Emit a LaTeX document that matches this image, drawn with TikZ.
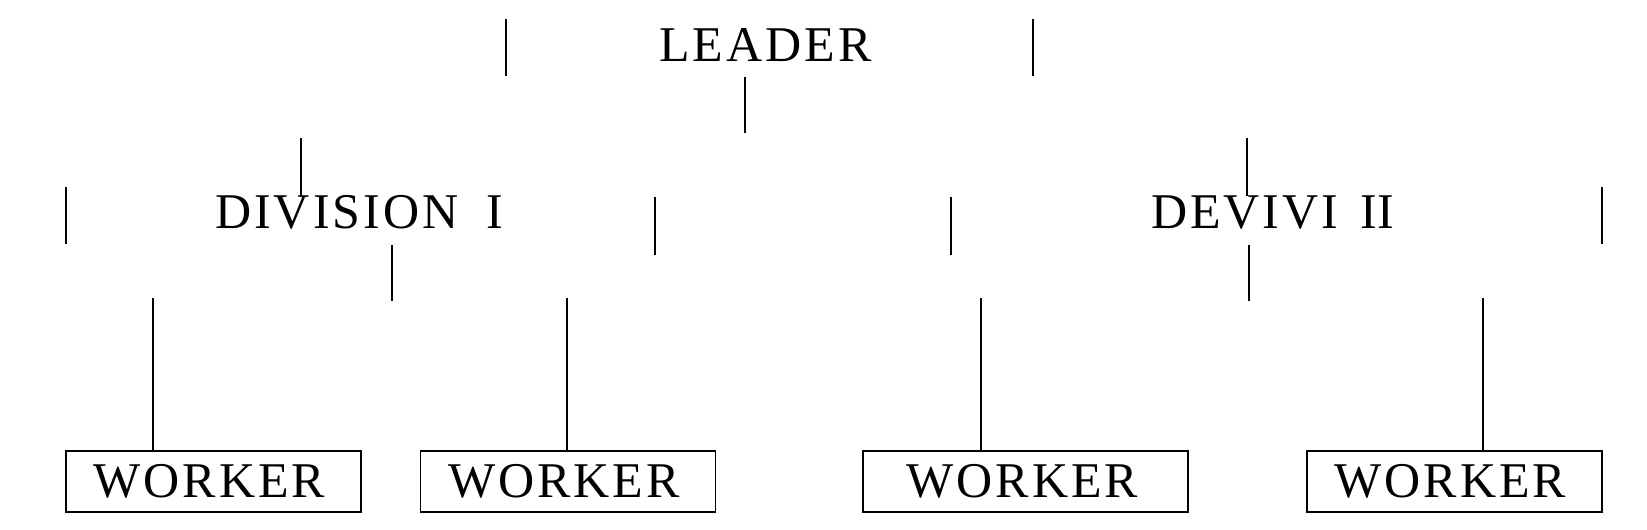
\documentclass[tikz,border=0pt]{standalone}
\usepackage{fontspec}
\setmainfont{Liberation Serif}
\newfontfamily\spacedfont[LetterSpace=6]{Liberation Serif}
\begin{document}
\begin{tikzpicture}[x=1pt,y=-1pt,
  lbl/.style={anchor=base west,inner sep=0pt,font=\spacedfont\fontsize{50}{56}\selectfont},
  bar/.style={line width=1.6pt},
  wbox/.style={draw,line width=1.8pt,minimum width=295pt,minimum height=61pt,inner sep=0pt,font=\spacedfont\fontsize{50}{56}\selectfont}]
\useasboundingbox (0,0) rectangle (1647,530);
% labels
\node[lbl] (leader) at (659,61) {LEADER};
\node[lbl] (div1) at (215,228) {DIVISION\hspace{28pt}I};
\node[lbl] (div2) at (1151,228) {DEVIVI\hspace{22pt}{\rmfamily\fontsize{50}{56}\selectfont II}};
% worker boxes
\node[wbox] (w1) at (213.5,481.5) {\hspace{-8pt}WORKER};
\node[wbox] (w2) at (568,481.5) {\hspace{-8pt}WORKER};
\node[wbox,minimum width=325pt] (w3) at (1025.5,481.5) {\hspace{-6pt}WORKER};
\node[wbox] (w4) at (1454.5,481.5) {\hspace{-8pt}WORKER};
% bar end points
\coordinate (la) at (506,19); \coordinate (lb) at (506,76);
\coordinate (ra) at (1033,19); \coordinate (rb) at (1033,76);
\coordinate (ca) at (745,77); \coordinate (cb) at (745,133);
\coordinate (d1la) at (66,187); \coordinate (d1lb) at (66,244);
\coordinate (d1ta) at (301,138); \coordinate (d1tb) at (301,196);
\coordinate (d1ra) at (655,197); \coordinate (d1rb) at (655,255);
\coordinate (d1ba) at (392,245); \coordinate (d1bb) at (392,301);
\coordinate (d2la) at (951,197); \coordinate (d2lb) at (951,255);
\coordinate (d2ta) at (1247,138); \coordinate (d2tb) at (1247,196);
\coordinate (d2ra) at (1602,187); \coordinate (d2rb) at (1602,244);
\coordinate (d2ba) at (1249,245); \coordinate (d2bb) at (1249,301);
\coordinate (w1t) at (153,298); \coordinate (w2t) at (567,298);
\coordinate (w3t) at (981,298); \coordinate (w4t) at (1483,298);
% bars
\draw[bar] (la) -- (lb);
\draw[bar] (ra) -- (rb);
\draw[bar] (ca) -- (cb);
\draw[bar] (d1la) -- (d1lb);
\draw[bar] (d1ta) -- (d1tb);
\draw[bar] (d1ra) -- (d1rb);
\draw[bar] (d1ba) -- (d1bb);
\draw[bar] (d2la) -- (d2lb);
\draw[bar] (d2ta) -- (d2tb);
\draw[bar] (d2ra) -- (d2rb);
\draw[bar] (d2ba) -- (d2bb);
\draw[bar] (w1t) -- (w1t |- w1.north);
\draw[bar] (w2t) -- (w2t |- w2.north);
\draw[bar] (w3t) -- (w3t |- w3.north);
\draw[bar] (w4t) -- (w4t |- w4.north);
\end{tikzpicture}
\end{document}
